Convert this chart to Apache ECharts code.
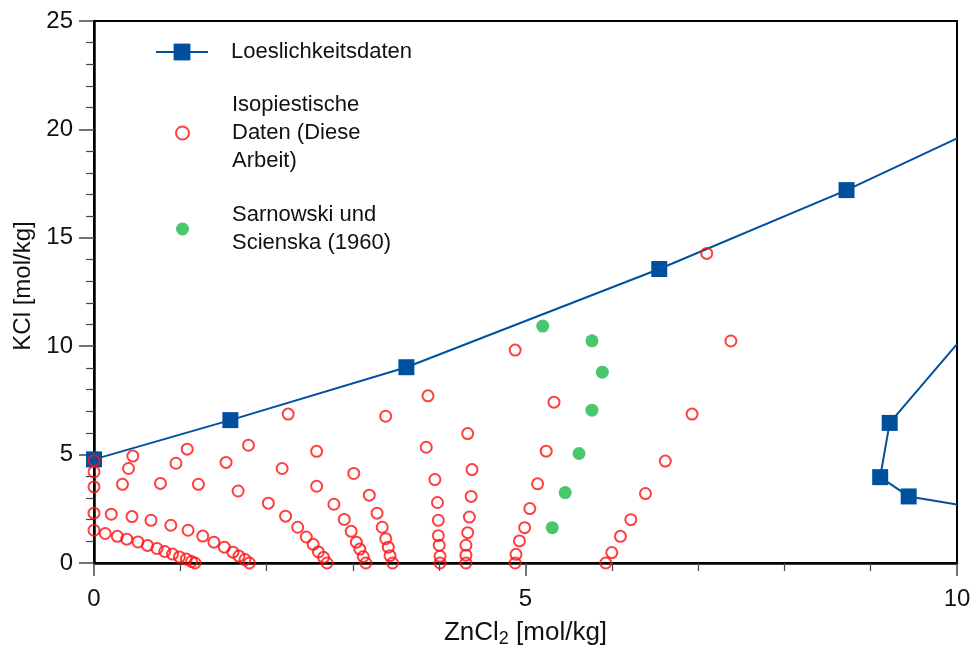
<!DOCTYPE html>
<html>
<head>
<meta charset="utf-8">
<script src="https://cdn.jsdelivr.net/npm/echarts@6/dist/echarts.min.js"></script>
<style>
html,body{margin:0;padding:0;background:#fff;}
#chart{width:980px;height:653px;}
</style>
</head>
<body>
<div id="chart"></div>
<script>
// Solubility data (Loeslichkeitsdaten), two branches; endpoints at x=10 are where the line leaves the frame
const solBranch1 = [[0, 4.78], [1.58, 6.59], [3.62, 9.03], [6.55, 13.56], [8.72, 17.2], [10, 19.59]];
const solBranch2 = [[10, 10.1], [9.22, 6.46], [9.11, 3.96], [9.44, 3.07], [10, 2.70]];

// Isopiestic data (this work), grouped by isopiestic line
const isoA = [[0, 1.51], [0.13, 1.36], [0.27, 1.23], [0.38, 1.10], [0.51, 0.97], [0.62, 0.81], [0.73, 0.67], [0.82, 0.53], [0.91, 0.41], [0.99, 0.28], [1.07, 0.18], [1.13, 0.07], [1.17, 0]];
const isoB = [[0, 2.30], [0.20, 2.25], [0.44, 2.14], [0.66, 1.97], [0.89, 1.74], [1.09, 1.51], [1.26, 1.24], [1.39, 0.96], [1.51, 0.73], [1.61, 0.50], [1.68, 0.32], [1.75, 0.16], [1.80, 0]];
const isoC = [[0, 3.51], [0.33, 3.63], [0.77, 3.67], [1.21, 3.63], [1.67, 3.32], [2.02, 2.76], [2.22, 2.16], [2.36, 1.65], [2.46, 1.20], [2.54, 0.86], [2.60, 0.51], [2.66, 0.26], [2.70, 0]];
const isoD = [[0, 4.20], [0.40, 4.36], [0.95, 4.60], [1.53, 4.64], [2.18, 4.36], [2.58, 3.54], [2.78, 2.71], [2.90, 2.01], [2.98, 1.46], [3.04, 0.96], [3.08, 0.64], [3.12, 0.30], [3.15, 0]];
const isoE = [[0, 4.72], [0.45, 4.93], [1.08, 5.25], [1.79, 5.43], [2.58, 5.15], [3.01, 4.13], [3.19, 3.13], [3.28, 2.30], [3.34, 1.65], [3.38, 1.12], [3.41, 0.73], [3.43, 0.34], [3.46, 0]];
const isoF = [[2.25, 6.87], [3.85, 5.34], [3.95, 3.85], [3.98, 2.79], [3.99, 1.97], [3.99, 1.26], [4.00, 0.82], [4.01, 0.31], [4.01, 0]];
const isoG = [[3.38, 6.77], [3.87, 7.71], [4.33, 5.97], [4.38, 4.31], [4.37, 3.07], [4.35, 2.12], [4.33, 1.40], [4.31, 0.82], [4.31, 0.36], [4.31, 0]];
const isoH = [[4.88, 9.82], [5.33, 7.42], [5.24, 5.16], [5.14, 3.65], [5.05, 2.51], [4.99, 1.63], [4.93, 1.02], [4.89, 0.40], [4.88, 0]];
const isoI = [[7.10, 14.28], [7.38, 10.24], [6.93, 6.87], [6.62, 4.70], [6.39, 3.20], [6.22, 2.00], [6.10, 1.23], [6.00, 0.48], [5.93, 0]];

// Sarnowski und Scienska (1960)
const sarnowski = [[5.20, 10.93], [5.77, 10.25], [5.89, 8.80], [5.77, 7.05], [5.62, 5.05], [5.46, 3.25], [5.31, 1.63]];

const xTicks = [0, 5, 10];
const yTicks = [0, 5, 10, 15, 20, 25];

const nameSol = 'Loeslichkeitsdaten';
const nameIso = 'Isopiestische\nDaten (Diese\nArbeit)';
const nameSar = 'Sarnowski und\nScienska (1960)';

const BLUE = '#0050a0';
const RED = '#ff1010';
const GREEN = '#1db849';
const FONT = 'Liberation Sans, Arial, sans-serif';

function edgePoints(arr) {
  return arr.map(function (p) {
    return (p[0] === 10) ? { value: p, symbol: 'none' } : p;
  });
}

const isoAll = [].concat(isoA, isoB, isoC, isoD, isoE, isoF, isoG, isoH, isoI);

const chart = echarts.init(document.getElementById('chart'), null, { renderer: 'canvas' });

const option = {
  backgroundColor: '#fff',
  animation: false,
  textStyle: { fontFamily: FONT },
  grid: {
    left: 94, right: 23, top: 21, bottom: 90,
    show: true, borderColor: '#000', borderWidth: 2, backgroundColor: 'transparent'
  },
  legend: [
    {
      data: [nameSol],
      orient: 'vertical',
      left: 150, top: 33,
      itemWidth: 52, itemHeight: 21,
      textStyle: { fontFamily: FONT, fontSize: 22, color: '#111', lineHeight: 28, padding: [0, 0, 0, 18] },
      selectedMode: false
    },
    {
      data: [nameIso, nameSar],
      orient: 'vertical',
      left: 170, top: 86,
      itemWidth: 13, itemHeight: 13, itemGap: 26,
      textStyle: { fontFamily: FONT, fontSize: 22, color: '#111', lineHeight: 28, padding: [0, 0, 0, 38] },
      selectedMode: false
    }
  ],
  xAxis: {
    type: 'value', min: 0, max: 10, interval: 5,
    name: 'ZnCl{sub|2} [mol/kg]',
    nameLocation: 'middle', nameGap: 55,
    nameTextStyle: {
      fontFamily: FONT, fontSize: 26, color: '#111',
      rich: { sub: { fontFamily: FONT, fontSize: 18, verticalAlign: 'bottom', padding: [12, 0, 0, 0], color: '#111' } }
    },
    axisLine: { onZero: false, lineStyle: { color: '#000', width: 2.5 } },
    axisTick: { show: true, inside: false, length: 13, lineStyle: { color: '#444', width: 1.5 } },
    minorTick: { show: true, splitNumber: 5, length: 8, lineStyle: { color: '#444', width: 1.2 } },
    splitLine: { show: false },
    axisLabel: { fontFamily: FONT, fontSize: 24, color: '#111', margin: 24,
      formatter: function (v) { return xTicks.indexOf(v) >= 0 ? String(v) : ''; } }
  },
  yAxis: {
    type: 'value', min: 0, max: 25, interval: 5,
    name: 'KCl [mol/kg]',
    nameLocation: 'middle', nameGap: 56,
    nameTextStyle: { fontFamily: FONT, fontSize: 24, color: '#111', padding: [0, 0, 0, 12] },
    axisLine: { onZero: false, lineStyle: { color: '#000', width: 2.5 } },
    axisTick: { show: true, inside: false, length: 15, lineStyle: { color: '#444', width: 1.5 } },
    minorTick: { show: true, splitNumber: 5, length: 8, lineStyle: { color: '#444', width: 1.2 } },
    splitLine: { show: false },
    axisLabel: { fontFamily: FONT, fontSize: 24, color: '#111', margin: 21,
      formatter: function (v) { return yTicks.indexOf(v) >= 0 ? String(v) : ''; } }
  },
  series: [
    {
      name: nameSol, type: 'line', data: edgePoints(solBranch1),
      symbol: 'rect', symbolSize: 16,
      lineStyle: { color: BLUE, width: 2 },
      itemStyle: { color: BLUE },
      z: 2
    },
    {
      name: nameSol, type: 'line', data: edgePoints(solBranch2),
      symbol: 'rect', symbolSize: 16,
      lineStyle: { color: BLUE, width: 2 },
      itemStyle: { color: BLUE },
      z: 2
    },
    {
      name: nameIso, type: 'scatter', data: isoAll,
      symbol: 'circle', symbolSize: 11,
      itemStyle: { color: 'transparent', borderColor: RED, borderWidth: 2 },
      z: 3
    },
    {
      name: nameSar, type: 'scatter', data: sarnowski,
      symbol: 'circle', symbolSize: 13,
      itemStyle: { color: GREEN },
      z: 3
    }
  ]
};
chart.setOption(option);
</script>
</body>
</html>
